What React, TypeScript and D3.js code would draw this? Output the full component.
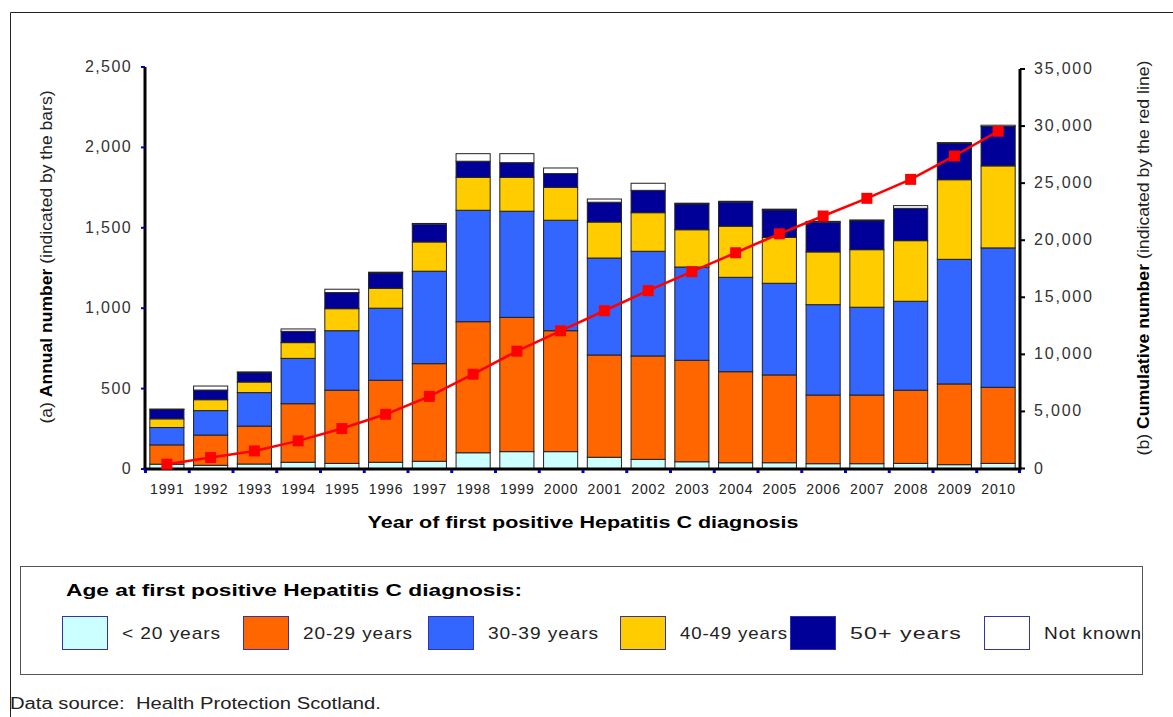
import React from 'react'
import * as d3 from 'd3'

const years = ['1991', '1992', '1993', '1994', '1995', '1996', '1997', '1998', '1999', '2000',
  '2001', '2002', '2003', '2004', '2005', '2006', '2007', '2008', '2009', '2010']

// annual counts by age group
const under20 = [30, 23, 31, 42, 35, 42, 48, 101, 108, 108, 73, 60, 45, 39, 39, 33, 33, 35, 27, 35]
const age20to29 = [120, 188, 236, 364, 455, 510, 607, 815, 835, 752, 636, 643, 631, 566, 546, 427, 427, 455, 502, 473]
const age30to39 = [108, 152, 208, 282, 370, 448, 575, 693, 660, 687, 603, 651, 580, 587, 570, 562, 546, 553, 775, 867]
const age40to49 = [54, 68, 66, 98, 137, 124, 182, 205, 211, 205, 224, 240, 232, 318, 286, 328, 358, 377, 495, 510]
const age50plus = [58, 60, 58, 70, 100, 95, 110, 100, 91, 85, 123, 139, 160, 150, 170, 185, 180, 201, 225, 245]
const notKnown = [3, 25, 5, 15, 21, 5, 5, 47, 56, 35, 20, 44, 5, 5, 5, 5, 5, 17, 6, 8]

// cumulative number (red line)
const cumulative = [380, 960, 1540, 2420, 3500, 4750, 6320, 8260, 10280, 12060,
  13820, 15580, 17240, 18900, 20560, 22120, 23670, 25330, 27380, 29550]

const leftTicks = [0, 500, 1000, 1500, 2000, 2500]
const rightTicks = [0, 5000, 10000, 15000, 20000, 25000, 30000, 35000]

const seriesKeys = ['u20', 'a20', 'a30', 'a40', 'a50', 'nk']
const seriesLabels = ['< 20 years', '20-29 years', '30-39 years', '40-49 years', '50+ years', 'Not known']
const seriesColors = ['#CCFFFF', '#FF6600', '#3366FF', '#FFCC00', '#000099', '#FFFFFF']

const FONT = '"Liberation Sans", Arial, sans-serif'

export default function App() {
  const rows = years.map((y, i) => ({
    year: y,
    u20: under20[i],
    a20: age20to29[i],
    a30: age30to39[i],
    a40: age40to49[i],
    a50: age50plus[i],
    nk: notKnown[i],
  }))
  const stacked = d3.stack<any>().keys(seriesKeys)(rows)

  const x = d3.scaleBand().domain(years).range([145, 1020]).paddingInner(0.22).paddingOuter(0.11)
  const yL = d3.scaleLinear().domain([0, 2500]).range([469, 67])
  const yR = d3.scaleLinear().domain([0, 35000]).range([468.5, 69])
  const fmt = d3.format(',')

  const line = d3
    .line<number>()
    .x((d, i) => (x(years[i]) as number) + x.bandwidth() / 2)
    .y((d) => yR(d))

  // legend item x positions
  const legendX = [62, 243, 428, 620, 790, 984]
  const legendLen = [99, 110, 111, 108, 112, 98]

  return (
    <svg width={1173} height={717} style={{ position: 'absolute', left: 0, top: 0, background: '#fff' }}
      fontFamily={FONT}>
      {/* outer frame */}
      <line x1={10.5} y1={12.5} x2={1173} y2={12.5} stroke="#222" />
      <line x1={10.5} y1={12.5} x2={10.5} y2={717} stroke="#222" />

      {/* bars */}
      {stacked.map((s, si) => (
        <g key={s.key}>
          {s.map((d, i) => (
            <rect key={i} x={x(years[i])} width={x.bandwidth()} y={yL(d[1])}
              height={Math.max(0, yL(d[0]) - yL(d[1]))}
              fill={seriesColors[si]} stroke="#222" strokeWidth={1} />
          ))}
        </g>
      ))}

      {/* axes */}
      <line x1={145} y1={yL(2500)} x2={145} y2={469} stroke="#000" strokeWidth={3} />
      <line x1={1020} y1={yR(35000)} x2={1020} y2={469} stroke="#000" strokeWidth={3} />
      <line x1={143.5} y1={469} x2={1021.5} y2={469} stroke="#000" strokeWidth={3} />

      {leftTicks.map((t) => (
        <g key={t}>
          <line x1={141} x2={145} y1={yL(t)} y2={yL(t)} stroke="#0000CC" strokeWidth={2} />
          <text x={132} y={yL(t) + 5} textAnchor="end" fontSize={16} fill="#333" letterSpacing={1.4}>{fmt(t)}</text>
        </g>
      ))}
      {rightTicks.map((t) => (
        <g key={t}>
          <line x1={1020} x2={1025} y1={yR(t)} y2={yR(t)} stroke="#000" strokeWidth={2} />
          <text x={1034} y={yR(t) + 5} fontSize={16} fill="#333" letterSpacing={1.8}>{fmt(t)}</text>
        </g>
      ))}
      {years.map((y, i) => (
        <g key={y}>
          <rect x={(x(y) as number) - x.step() * x.paddingInner() / 2 - 1} y={470} width={3} height={3} fill="#0000CC" />
          <text x={(x(y) as number) + x.bandwidth() / 2 + 0.5} y={494} textAnchor="middle" fontSize={14}
            fill="#222" letterSpacing={0.9}>{y}</text>
        </g>
      ))}
      <rect x={1018} y={470} width={3} height={3} fill="#0000CC" />

      {/* cumulative line */}
      <path d={line(cumulative) || ''} fill="none" stroke="#FF0000" strokeWidth={2.5} />
      {cumulative.map((c, i) => (
        <rect key={i} x={(x(years[i]) as number) + x.bandwidth() / 2 - 5.5} y={yR(c) - 5.5}
          width={11} height={11} fill="#FF0000" />
      ))}

      {/* axis titles */}
      <text x={583} y={528} textAnchor="middle" fontSize={17} fontWeight="bold" fill="#000"
        textLength={431} lengthAdjust="spacingAndGlyphs">Year of first positive Hepatitis C diagnosis</text>
      <text transform="translate(52,257) rotate(-90)" textAnchor="middle" fontSize={17} fill="#222"
        textLength={333} lengthAdjust="spacingAndGlyphs">
        (a) <tspan fontWeight="bold" fill="#000">Annual number</tspan> (indicated by the bars)
      </text>
      <text transform="translate(1149,258) rotate(-90)" textAnchor="middle" fontSize={17} fill="#222"
        textLength={395} lengthAdjust="spacingAndGlyphs">
        (b) <tspan fontWeight="bold" fill="#000">Cumulative number</tspan> (indicated by the red line)
      </text>

      {/* legend */}
      <rect x={20.5} y={566.5} width={1122} height={108} fill="#fff" stroke="#555" strokeWidth={1} />
      <text x={66} y={596} fontSize={17} fontWeight="bold" fill="#000" textLength={456}
        lengthAdjust="spacingAndGlyphs">
        Age at first positive Hepatitis C diagnosis:
      </text>
      {seriesLabels.map((lab, i) => (
        <g key={lab}>
          <rect x={legendX[i] + 0.5} y={616.5} width={45} height={33} fill={seriesColors[i]}
            stroke="#3333AA" strokeWidth={1} />
          <text x={legendX[i] + 60} y={639} fontSize={17} fill="#222" letterSpacing={0.8}
            textLength={legendLen[i]} lengthAdjust="spacingAndGlyphs">{lab}</text>
        </g>
      ))}

      <text x={10} y={709} fontSize={16} fill="#222" textLength={371} lengthAdjust="spacingAndGlyphs"
        xmlSpace="preserve">
        Data source:  Health Protection Scotland.
      </text>
    </svg>
  )
}
